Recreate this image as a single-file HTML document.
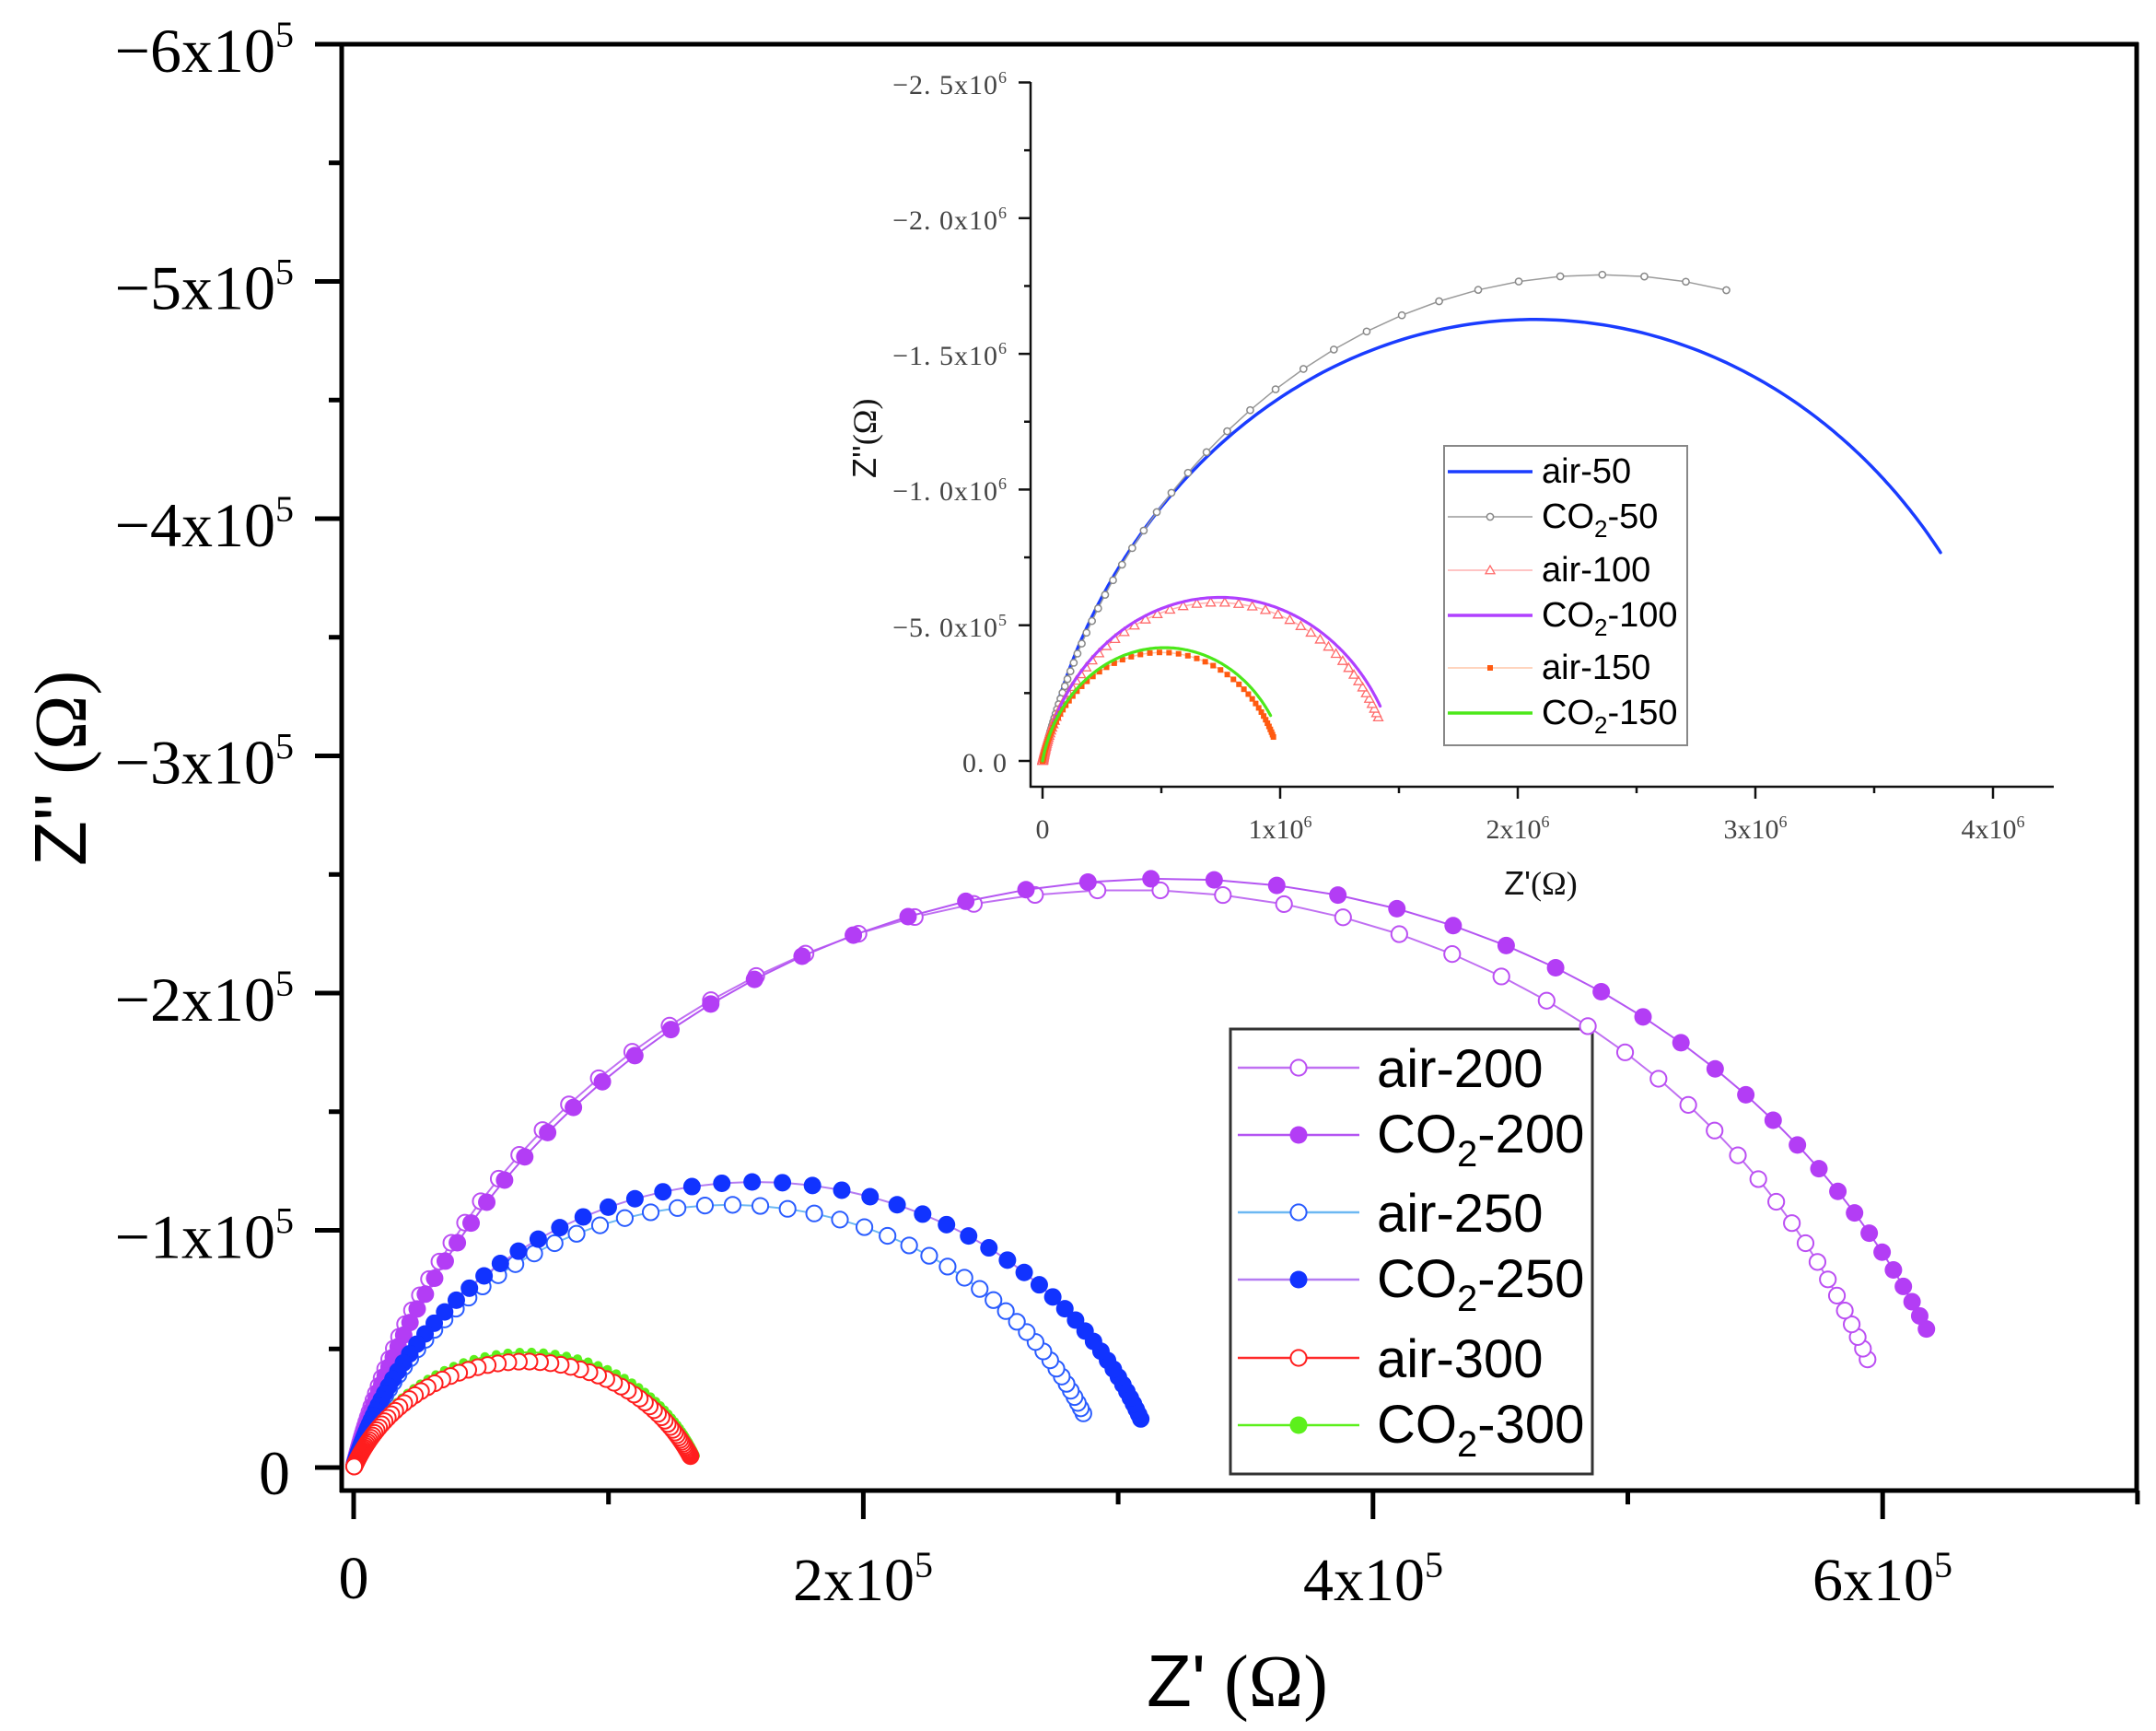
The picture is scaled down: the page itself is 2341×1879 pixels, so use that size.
<!DOCTYPE html>
<html><head><meta charset="utf-8">
<style>
html,body{margin:0;padding:0;background:#fff;}
svg{display:block;}
.sf{font-family:"Liberation Serif",serif;}
.ss{font-family:"Liberation Sans",sans-serif;}
</style></head><body>
<svg id="s" width="2341" height="1879" viewBox="0 0 2341 1879" xmlns="http://www.w3.org/2000/svg">
<rect width="2341" height="1879" fill="#fff"/>

<!-- MAIN AXES -->
<g stroke="#000" stroke-width="5" fill="none">
  <line x1="342" y1="48" x2="2322" y2="48"/>
  <line x1="371" y1="46" x2="371" y2="1620"/>
  <line x1="369" y1="1618" x2="2322" y2="1618"/>
  <line x1="2320" y1="46" x2="2320" y2="1620"/>
</g>
<g id="mticks" stroke="#000" stroke-width="5"></g>

<!-- main y labels -->
<g class="sf" font-size="68" fill="#000" text-anchor="end">
  <text x="319" y="78">−6x10<tspan dy="-27" font-size="40">5</tspan></text>
  <text x="319" y="335.5">−5x10<tspan dy="-27" font-size="40">5</tspan></text>
  <text x="319" y="593">−4x10<tspan dy="-27" font-size="40">5</tspan></text>
  <text x="319" y="850.5">−3x10<tspan dy="-27" font-size="40">5</tspan></text>
  <text x="319" y="1108">−2x10<tspan dy="-27" font-size="40">5</tspan></text>
  <text x="319" y="1365.5">−1x10<tspan dy="-27" font-size="40">5</tspan></text>
  <text x="315" y="1622">0</text>
</g>
<!-- main x labels -->
<g class="sf" font-size="66" fill="#000" text-anchor="middle">
  <text x="384" y="1735">0</text>
  <text x="937" y="1737">2x10<tspan dy="-25" font-size="40">5</tspan></text>
  <text x="1491" y="1737">4x10<tspan dy="-25" font-size="40">5</tspan></text>
  <text x="2044" y="1737">6x10<tspan dy="-25" font-size="40">5</tspan></text>
</g>
<!-- main titles -->
<text x="1245" y="1852" font-size="80" fill="#000"><tspan class="ss">Z'</tspan><tspan class="sf"> (Ω)</tspan></text>
<text transform="translate(93,940) rotate(-90)" x="0" y="0" font-size="80" fill="#000"><tspan class="ss">Z''</tspan><tspan class="sf"> (Ω)</tspan></text>

<!-- MAIN LEGEND -->
<rect x="1336" y="1117" width="393" height="483" fill="#fff" stroke="#333" stroke-width="3"/>
<g id="mleg"></g>
<g class="ss" font-size="58" fill="#000">
  <text x="1495" y="1180">air-200</text>
  <text x="1495" y="1251">CO<tspan font-size="40" dy="15">2</tspan><tspan dy="-15">-200</tspan></text>
  <text x="1495" y="1337">air-250</text>
  <text x="1495" y="1408">CO<tspan font-size="40" dy="15">2</tspan><tspan dy="-15">-250</tspan></text>
  <text x="1495" y="1495">air-300</text>
  <text x="1495" y="1566">CO<tspan font-size="40" dy="15">2</tspan><tspan dy="-15">-300</tspan></text>
</g>

<!-- INSET AXES -->
<g stroke="#111" stroke-width="2.5" fill="none">
  <line x1="1119" y1="89" x2="1119" y2="855"/>
  <line x1="1118" y1="854" x2="2230" y2="854"/>
</g>
<g id="iticks" stroke="#111" stroke-width="2.5"></g>
<g class="sf" font-size="30" fill="#444" text-anchor="end" letter-spacing="1">
  <text x="1094" y="102">−2. 5x10<tspan dy="-12" font-size="18">6</tspan></text>
  <text x="1094" y="249">−2. 0x10<tspan dy="-12" font-size="18">6</tspan></text>
  <text x="1094" y="396">−1. 5x10<tspan dy="-12" font-size="18">6</tspan></text>
  <text x="1094" y="543">−1. 0x10<tspan dy="-12" font-size="18">6</tspan></text>
  <text x="1094" y="691">−5. 0x10<tspan dy="-12" font-size="18">5</tspan></text>
  <text x="1094" y="838">0. 0</text>
</g>
<g class="sf" font-size="30" fill="#444" text-anchor="middle">
  <text x="1132" y="910">0</text>
  <text x="1390" y="910">1x10<tspan dy="-12" font-size="18">6</tspan></text>
  <text x="1648" y="910">2x10<tspan dy="-12" font-size="18">6</tspan></text>
  <text x="1906" y="910">3x10<tspan dy="-12" font-size="18">6</tspan></text>
  <text x="2164" y="910">4x10<tspan dy="-12" font-size="18">6</tspan></text>
</g>
<text x="1673" y="971" font-size="36" fill="#111" text-anchor="middle"><tspan class="ss">Z'</tspan><tspan class="sf">(Ω)</tspan></text>
<text transform="translate(951,519) rotate(-90)" x="0" y="0" font-size="36" fill="#111"><tspan class="ss">Z''</tspan><tspan class="sf">(Ω)</tspan></text>

<!-- INSET LEGEND -->
<rect x="1568" y="484" width="264" height="325" fill="#fff" stroke="#888" stroke-width="2"/>
<g id="ileg"></g>
<g class="ss" font-size="38" fill="#000">
  <text x="1674" y="524">air-50</text>
  <text x="1674" y="573">CO<tspan font-size="26" dy="10">2</tspan><tspan dy="-10">-50</tspan></text>
  <text x="1674" y="631">air-100</text>
  <text x="1674" y="680">CO<tspan font-size="26" dy="10">2</tspan><tspan dy="-10">-100</tspan></text>
  <text x="1674" y="737">air-150</text>
  <text x="1674" y="786">CO<tspan font-size="26" dy="10">2</tspan><tspan dy="-10">-150</tspan></text>
</g>

<g id="plot"></g>
</svg>
<script>
(function(){
const NS='http://www.w3.org/2000/svg';
function el(tag,attrs,parent){const e=document.createElementNS(NS,tag);for(const k in attrs)e.setAttribute(k,attrs[k]);parent.appendChild(e);return e;}
function zarc(R,a,u){const t=Math.exp(a*u),p=a*Math.PI/2,c=Math.cos(p),s=Math.sin(p),d=1+2*t*c+t*t;return [R*(1+t*c)/d,R*t*s/d];}
function pts(R,a,tEnd,tMax,du){const o=[];const u0=Math.log(tEnd)/a,u1=Math.log(tMax)/a;for(let u=u0;u<=u1+1e-9;u+=du)o.push(zarc(R,a,u));return o;}

// main ticks
const mt=document.getElementById('mticks');
for(let k=0;k<=6;k++){const y=1593-257.5*k;el('line',{x1:342,y1:y,x2:371,y2:y},mt);}
for(let k=0;k<6;k++){const y=1593-257.5*(k+0.5);el('line',{x1:357,y1:y,x2:371,y2:y},mt);}
for(let k=0;k<=7;k++){const x=384+276.7*k;const L=(k%2==0)?31:15;el('line',{x1:x,y1:1618,x2:x,y2:1618+L},mt);}
// inset ticks
const it=document.getElementById('iticks');
for(let k=0;k<=5;k++){const y=826-147.3*k;el('line',{x1:1106,y1:y,x2:1119,y2:y},it);}
for(let k=0;k<5;k++){const y=826-147.3*(k+0.5);el('line',{x1:1112,y1:y,x2:1119,y2:y},it);}
for(let k=0;k<=4;k++){const x=1132+258*k;el('line',{x1:x,y1:854,x2:x,y2:867},it);}
for(let k=0;k<4;k++){const x=1132+258*(k+0.5);el('line',{x1:x,y1:854,x2:x,y2:861},it);}

const plot=document.getElementById('plot');
const mx=x=>384+276.7*x, my=y=>1593-257.5*y;
const ix=x=>1132+258*x, iy=y=>826-294.6*y;

function poly(P,fx,fy,col,w,g){el('polyline',{points:P.map(p=>fx(p[0]).toFixed(1)+','+fy(p[1]).toFixed(1)).join(' '),fill:'none',stroke:col,'stroke-width':w,'stroke-linejoin':'round','stroke-linecap':'round'},g);}
function marker(type,x,y,col,g,size){
  if(type==='open')el('circle',{cx:x,cy:y,r:size||8.6,fill:'#fff',stroke:col,'stroke-width':2},g);
  else if(type==='fill')el('circle',{cx:x,cy:y,r:size||9.5,fill:col},g);
  else if(type==='iopen')el('circle',{cx:x,cy:y,r:3.6,fill:'#fff',stroke:col,'stroke-width':1.5},g);
  else if(type==='tri'){const s=5;el('polygon',{points:`${x},${y-s} ${x-s},${y+s*0.75} ${x+s},${y+s*0.75}`,fill:'#fff',stroke:col,'stroke-width':1.3},g);}
  else if(type==='sq')el('rect',{x:x-3,y:y-3,width:6,height:6,fill:col},g);
}

// ---------- INSET SERIES ----------
const du=Math.log(10)/20;
poly(pts(4.14,0.848,0.22,3000,0.02),ix,iy,'#1a3cff',3.5,plot);
{const P=pts(4.706,0.8286,0.75,2000,du);poly(P,ix,iy,'#9a9a9a',1.5,plot);P.forEach(p=>marker('iopen',ix(p[0]),iy(p[1]),'#888',plot));}
{const P=pts(1.47,0.855,0.12,2000,du);poly(P,ix,iy,'#ffb0b0',1.5,plot);P.forEach(p=>marker('tri',ix(p[0]),iy(p[1]),'#ff6a6a',plot));}
poly(pts(1.496,0.8635,0.15,3000,0.02),ix,iy,'#b040ff',3.2,plot);
{const P=pts(1.0,0.859,0.095,2000,du);poly(P,ix,iy,'#ffc6a8',1.5,plot);P.forEach(p=>marker('sq',ix(p[0]),iy(p[1]),'#ff5a10',plot));}
poly(pts(1.026,0.8695,0.185,3000,0.02),ix,iy,'#4ce81a',3.2,plot);

// ---------- MAIN SERIES ----------
const S=[
 {R:6.08,a:0.86,t:0.08,line:'#c070f2',mc:'#bb4ff3',type:'open'},
 {R:6.38,a:0.842,t:0.10,line:'#b455f2',mc:'#b33df5',type:'fill'},
 {R:2.95,a:0.82,t:0.085,line:'#6cb8f2',mc:'#2a5cff',type:'open'},
 {R:3.16,a:0.829,t:0.07,line:'#b47cf2',mc:'#1133ff',type:'fill'},
 {R:1.36,a:0.79,t:0.04,line:'#5cf01c',mc:'#5cf01c',type:'fill',sz:5},
 {R:1.344,a:0.747,t:0.04,line:'#ff2a2a',mc:'#ff1e1e',type:'open'}
];
S.forEach(s=>{const P=pts(s.R,s.a,s.t,300,du);poly(P,mx,my,s.line,2,plot);P.forEach(p=>marker(s.type,mx(p[0]),my(p[1]),s.mc,plot,s.sz));});

// ---------- LEGENDS ----------
const ml=document.getElementById('mleg');
const LY=[1159,1232,1316,1389,1474,1547];
const LM=[['#c070f2','open','#bb4ff3'],['#b455f2','fill','#b33df5'],['#6cb8f2','open','#2a5cff'],['#b47cf2','fill','#1133ff'],['#ff2a2a','open','#ff1e1e'],['#5cf01c','fill','#5cf01c']];
LM.forEach((m,i)=>{el('line',{x1:1344,y1:LY[i],x2:1476,y2:LY[i],stroke:m[0],'stroke-width':2.5},ml);marker(m[1],1410,LY[i],m[2],ml);});

const il=document.getElementById('ileg');
const IY=[512,561,619,668,725,774];
el('line',{x1:1572,y1:IY[0],x2:1664,y2:IY[0],stroke:'#1a3cff','stroke-width':3.5},il);
el('line',{x1:1572,y1:IY[1],x2:1664,y2:IY[1],stroke:'#9a9a9a','stroke-width':1.5},il);marker('iopen',1618,IY[1],'#888',il);
el('line',{x1:1572,y1:IY[2],x2:1664,y2:IY[2],stroke:'#ffb0b0','stroke-width':1.5},il);marker('tri',1618,IY[2],'#ff6a6a',il);
el('line',{x1:1572,y1:IY[3],x2:1664,y2:IY[3],stroke:'#b040ff','stroke-width':3.5},il);
el('line',{x1:1572,y1:IY[4],x2:1664,y2:IY[4],stroke:'#ffc6a8','stroke-width':1.5},il);marker('sq',1618,IY[4],'#ff5a10',il);
el('line',{x1:1572,y1:IY[5],x2:1664,y2:IY[5],stroke:'#4ce81a','stroke-width':3.5},il);
})();
</script>
</body></html>
